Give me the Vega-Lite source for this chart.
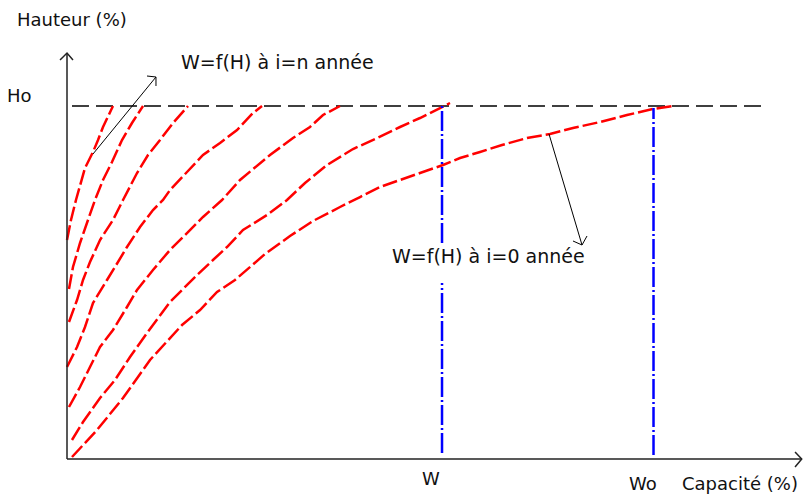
{
  "$schema": "https://vega.github.io/schema/vega-lite/v6.json",
  "width": 809,
  "height": 495,
  "padding": 0,
  "autosize": "none",
  "config": {"view": {"stroke": null}, "text": {"font": "DejaVu Sans"}},
  "datasets": {
    "curves": [
      {"c": 1, "o": 1, "x": 0, "y": 62.04}, {"c": 1, "o": 2, "x": 0.68, "y": 67.71}, {"c": 1, "o": 3, "x": 1.53, "y": 73.37}, {"c": 1, "o": 4, "x": 3.07, "y": 82.44}, {"c": 1, "o": 5, "x": 4.43, "y": 86.97}, {"c": 1, "o": 6, "x": 5.29, "y": 90.37}, {"c": 1, "o": 7, "x": 6.14, "y": 94.05}, {"c": 1, "o": 8, "x": 7.84, "y": 100},
      {"c": 2, "o": 1, "x": 0.34, "y": 48.16}, {"c": 2, "o": 2, "x": 1.02, "y": 54.39}, {"c": 2, "o": 3, "x": 2.22, "y": 61.19}, {"c": 2, "o": 4, "x": 3.58, "y": 67.71}, {"c": 2, "o": 5, "x": 4.77, "y": 73.37}, {"c": 2, "o": 6, "x": 6.14, "y": 79.04}, {"c": 2, "o": 7, "x": 7.67, "y": 84.14}, {"c": 2, "o": 8, "x": 9.38, "y": 90.37}, {"c": 2, "o": 9, "x": 11.08, "y": 95.18}, {"c": 2, "o": 10, "x": 12.96, "y": 100},
      {"c": 3, "o": 1, "x": 0.34, "y": 38.81}, {"c": 3, "o": 2, "x": 1.71, "y": 45.04}, {"c": 3, "o": 3, "x": 2.73, "y": 50.71}, {"c": 3, "o": 4, "x": 3.92, "y": 55.81}, {"c": 3, "o": 5, "x": 5.63, "y": 62.04}, {"c": 3, "o": 6, "x": 7.84, "y": 67.71}, {"c": 3, "o": 7, "x": 9.55, "y": 73.37}, {"c": 3, "o": 8, "x": 11.94, "y": 81.02}, {"c": 3, "o": 9, "x": 13.81, "y": 86.12}, {"c": 3, "o": 10, "x": 15.86, "y": 90.37}, {"c": 3, "o": 11, "x": 18.07, "y": 95.18}, {"c": 3, "o": 12, "x": 20.63, "y": 100},
      {"c": 4, "o": 1, "x": 0, "y": 26.06}, {"c": 4, "o": 2, "x": 1.71, "y": 31.73}, {"c": 4, "o": 3, "x": 3.07, "y": 37.39}, {"c": 4, "o": 4, "x": 4.43, "y": 44.19}, {"c": 4, "o": 5, "x": 6.82, "y": 50.71}, {"c": 4, "o": 6, "x": 8.18, "y": 54.39}, {"c": 4, "o": 7, "x": 10.23, "y": 60.06}, {"c": 4, "o": 8, "x": 12.45, "y": 65.72}, {"c": 4, "o": 9, "x": 14.66, "y": 70.54}, {"c": 4, "o": 10, "x": 16.37, "y": 73.37}, {"c": 4, "o": 11, "x": 17.56, "y": 76.2}, {"c": 4, "o": 12, "x": 20.46, "y": 81.3}, {"c": 4, "o": 13, "x": 23.19, "y": 86.12}, {"c": 4, "o": 14, "x": 26.09, "y": 89.52}, {"c": 4, "o": 15, "x": 28.99, "y": 93.2}, {"c": 4, "o": 16, "x": 31.71, "y": 98.02}, {"c": 4, "o": 17, "x": 33.25, "y": 100},
      {"c": 5, "o": 1, "x": 0.34, "y": 14.73}, {"c": 5, "o": 2, "x": 2.22, "y": 20.4}, {"c": 5, "o": 3, "x": 3.92, "y": 26.06}, {"c": 5, "o": 4, "x": 5.63, "y": 31.73}, {"c": 5, "o": 5, "x": 7.84, "y": 36.54}, {"c": 5, "o": 6, "x": 10.23, "y": 43.06}, {"c": 5, "o": 7, "x": 11.94, "y": 47.88}, {"c": 5, "o": 8, "x": 14.66, "y": 53.54}, {"c": 5, "o": 9, "x": 17.56, "y": 59.21}, {"c": 5, "o": 10, "x": 20.46, "y": 64.02}, {"c": 5, "o": 11, "x": 23.19, "y": 68.56}, {"c": 5, "o": 12, "x": 26.43, "y": 73.37}, {"c": 5, "o": 13, "x": 29.5, "y": 79.04}, {"c": 5, "o": 14, "x": 34.61, "y": 86.12}, {"c": 5, "o": 15, "x": 38.53, "y": 90.93}, {"c": 5, "o": 16, "x": 41.43, "y": 94.05}, {"c": 5, "o": 17, "x": 43.65, "y": 97.45}, {"c": 5, "o": 18, "x": 46.55, "y": 100},
      {"c": 6, "o": 1, "x": 0.85, "y": 5.38}, {"c": 6, "o": 2, "x": 2.73, "y": 10.48}, {"c": 6, "o": 3, "x": 5.63, "y": 17.28}, {"c": 6, "o": 4, "x": 8.18, "y": 22.38}, {"c": 6, "o": 5, "x": 10.74, "y": 28.9}, {"c": 6, "o": 6, "x": 13.64, "y": 35.69}, {"c": 6, "o": 7, "x": 17.56, "y": 44.48}, {"c": 6, "o": 8, "x": 19.61, "y": 47.88}, {"c": 6, "o": 9, "x": 22.17, "y": 52.12}, {"c": 6, "o": 10, "x": 24.89, "y": 56.37}, {"c": 6, "o": 11, "x": 27.28, "y": 60.06}, {"c": 6, "o": 12, "x": 30.01, "y": 64.87}, {"c": 6, "o": 13, "x": 34.1, "y": 69.12}, {"c": 6, "o": 14, "x": 37.51, "y": 73.37}, {"c": 6, "o": 15, "x": 40.58, "y": 78.19}, {"c": 6, "o": 16, "x": 44.33, "y": 83.29}, {"c": 6, "o": 17, "x": 48.76, "y": 87.82}, {"c": 6, "o": 18, "x": 52.52, "y": 90.65}, {"c": 6, "o": 19, "x": 56.78, "y": 94.05}, {"c": 6, "o": 20, "x": 60.19, "y": 96.6}, {"c": 6, "o": 21, "x": 63.6, "y": 99.43}, {"c": 6, "o": 22, "x": 65.3, "y": 100.85},
      {"c": 7, "o": 1, "x": 0.85, "y": 0.57}, {"c": 7, "o": 2, "x": 5.12, "y": 8.22}, {"c": 7, "o": 3, "x": 9.55, "y": 17.28}, {"c": 7, "o": 4, "x": 14.15, "y": 28.05}, {"c": 7, "o": 5, "x": 19.61, "y": 37.96}, {"c": 7, "o": 6, "x": 22.68, "y": 42.21}, {"c": 7, "o": 7, "x": 25.58, "y": 47.31}, {"c": 7, "o": 8, "x": 28.64, "y": 50.71}, {"c": 7, "o": 9, "x": 33.76, "y": 58.07}, {"c": 7, "o": 10, "x": 38.02, "y": 63.17}, {"c": 7, "o": 11, "x": 41.94, "y": 67.42}, {"c": 7, "o": 12, "x": 46.55, "y": 71.39}, {"c": 7, "o": 13, "x": 49.96, "y": 74.22}, {"c": 7, "o": 14, "x": 53.37, "y": 77.05}, {"c": 7, "o": 15, "x": 56.78, "y": 79.04}, {"c": 7, "o": 16, "x": 60.19, "y": 81.02}, {"c": 7, "o": 17, "x": 64.11, "y": 83.29}, {"c": 7, "o": 18, "x": 67.01, "y": 85.27}, {"c": 7, "o": 19, "x": 70.42, "y": 86.97}, {"c": 7, "o": 20, "x": 74.17, "y": 88.95}, {"c": 7, "o": 21, "x": 78.43, "y": 90.93}, {"c": 7, "o": 22, "x": 82.35, "y": 92.07}, {"c": 7, "o": 23, "x": 86.27, "y": 93.77}, {"c": 7, "o": 24, "x": 90.88, "y": 95.47}, {"c": 7, "o": 25, "x": 95.48, "y": 97.45}, {"c": 7, "o": 26, "x": 99.91, "y": 99.15}, {"c": 7, "o": 27, "x": 103.32, "y": 100}
    ],
    "axes": [
      {"id": "yaxis", "o": 1, "x": 0, "y": 0}, {"id": "yaxis", "o": 2, "x": 0, "y": 115.01},
      {"id": "xaxis", "o": 1, "x": 0, "y": 0}, {"id": "xaxis", "o": 2, "x": 125.27, "y": 0},
      {"id": "yhead", "o": 1, "x": -1.19, "y": 113.03}, {"id": "yhead", "o": 2, "x": 0, "y": 115.01}, {"id": "yhead", "o": 3, "x": 1.02, "y": 113.03},
      {"id": "xhead", "o": 1, "x": 124.13, "y": 1.98}, {"id": "xhead", "o": 2, "x": 125.27, "y": 0}, {"id": "xhead", "o": 3, "x": 124.13, "y": -2.27}
    ],
    "pointers": [
      {"id": "n", "o": 1, "x": 4.43, "y": 86.4}, {"id": "n", "o": 2, "x": 15.17, "y": 108.22},
      {"id": "nhead", "o": 1, "x": 13.64, "y": 108.5}, {"id": "nhead", "o": 2, "x": 15.17, "y": 108.22}, {"id": "nhead", "o": 3, "x": 15.17, "y": 105.67},
      {"id": "z", "o": 1, "x": 82.18, "y": 92.07}, {"id": "z", "o": 2, "x": 87.81, "y": 60.62},
      {"id": "zhead", "o": 1, "x": 86.27, "y": 61.76}, {"id": "zhead", "o": 2, "x": 87.81, "y": 60.62}, {"id": "zhead", "o": 3, "x": 88.66, "y": 63.17}
    ],
    "hline": [{"x": 0.85, "x2": 119.52, "y": 100}],
    "vlines": [{"x": 63.94, "y": 61.19, "y2": 100}, {"x": 63.94, "y": 1.7, "y2": 49.86}, {"x": 100, "y": 1.13, "y2": 99.43}],
    "labels": [
      {"t": "Hauteur (%)", "x": -8.53, "y": 122.66},
      {"t": "Ho", "x": -10.23, "y": 101.13},
      {"t": "W", "x": 60.53, "y": -7.37},
      {"t": "Wo", "x": 95.82, "y": -8.78},
      {"t": "Capacité (%)", "x": 104.86, "y": -8.78}
    ],
    "notes": [
      {"t": "W=f(H) à i=n année", "x": 19.44, "y": 110.48},
      {"t": "W=f(H) à i=0 année", "x": 55.41, "y": 55.52}
    ]
  },
  "layer": [
    {
      "data": {"name": "hline"},
      "mark": {"type": "rule", "color": "#000000", "strokeWidth": 1.4, "strokeDash": [17, 7]},
      "encoding": {
        "x": {"field": "x", "type": "quantitative", "scale": {"domain": [-11.424, 126.51], "nice": false, "zero": false}, "axis": null},
        "x2": {"field": "x2"},
        "y": {"field": "y", "type": "quantitative", "scale": {"domain": [-10.198, 130.03], "nice": false, "zero": false}, "axis": null}
      }
    },
    {
      "data": {"name": "curves"},
      "mark": {"type": "line", "color": "#ff0000", "strokeWidth": 2.5, "strokeDash": [15, 4]},
      "encoding": {
        "x": {"field": "x", "type": "quantitative", "scale": {"domain": [-11.424, 126.51], "nice": false, "zero": false}, "axis": null},
        "y": {"field": "y", "type": "quantitative", "scale": {"domain": [-10.198, 130.03], "nice": false, "zero": false}, "axis": null},
        "detail": {"field": "c", "type": "nominal"},
        "order": {"field": "o", "type": "quantitative"}
      }
    },
    {
      "data": {"name": "vlines"},
      "mark": {"type": "rule", "color": "#0000ff", "strokeWidth": 2.5, "strokeDash": [20, 3, 2, 3]},
      "encoding": {
        "x": {"field": "x", "type": "quantitative", "scale": {"domain": [-11.424, 126.51], "nice": false, "zero": false}, "axis": null},
        "y": {"field": "y", "type": "quantitative", "scale": {"domain": [-10.198, 130.03], "nice": false, "zero": false}, "axis": null},
        "y2": {"field": "y2"}
      }
    },
    {
      "data": {"name": "axes"},
      "mark": {"type": "line", "color": "#222222", "strokeWidth": 1.5},
      "encoding": {
        "x": {"field": "x", "type": "quantitative", "scale": {"domain": [-11.424, 126.51], "nice": false, "zero": false}, "axis": null},
        "y": {"field": "y", "type": "quantitative", "scale": {"domain": [-10.198, 130.03], "nice": false, "zero": false}, "axis": null},
        "detail": {"field": "id", "type": "nominal"},
        "order": {"field": "o", "type": "quantitative"}
      }
    },
    {
      "data": {"name": "pointers"},
      "mark": {"type": "line", "color": "#000000", "strokeWidth": 1},
      "encoding": {
        "x": {"field": "x", "type": "quantitative", "scale": {"domain": [-11.424, 126.51], "nice": false, "zero": false}, "axis": null},
        "y": {"field": "y", "type": "quantitative", "scale": {"domain": [-10.198, 130.03], "nice": false, "zero": false}, "axis": null},
        "detail": {"field": "id", "type": "nominal"},
        "order": {"field": "o", "type": "quantitative"}
      }
    },
    {
      "data": {"name": "labels"},
      "mark": {"type": "text", "align": "left", "baseline": "alphabetic", "fontSize": 18, "color": "#111111"},
      "encoding": {
        "x": {"field": "x", "type": "quantitative", "scale": {"domain": [-11.424, 126.51], "nice": false, "zero": false}, "axis": null},
        "y": {"field": "y", "type": "quantitative", "scale": {"domain": [-10.198, 130.03], "nice": false, "zero": false}, "axis": null},
        "text": {"field": "t"}
      }
    },
    {
      "data": {"name": "notes"},
      "mark": {"type": "text", "align": "left", "baseline": "alphabetic", "fontSize": 19, "color": "#111111"},
      "encoding": {
        "x": {"field": "x", "type": "quantitative", "scale": {"domain": [-11.424, 126.51], "nice": false, "zero": false}, "axis": null},
        "y": {"field": "y", "type": "quantitative", "scale": {"domain": [-10.198, 130.03], "nice": false, "zero": false}, "axis": null},
        "text": {"field": "t"}
      }
    }
  ]
}
